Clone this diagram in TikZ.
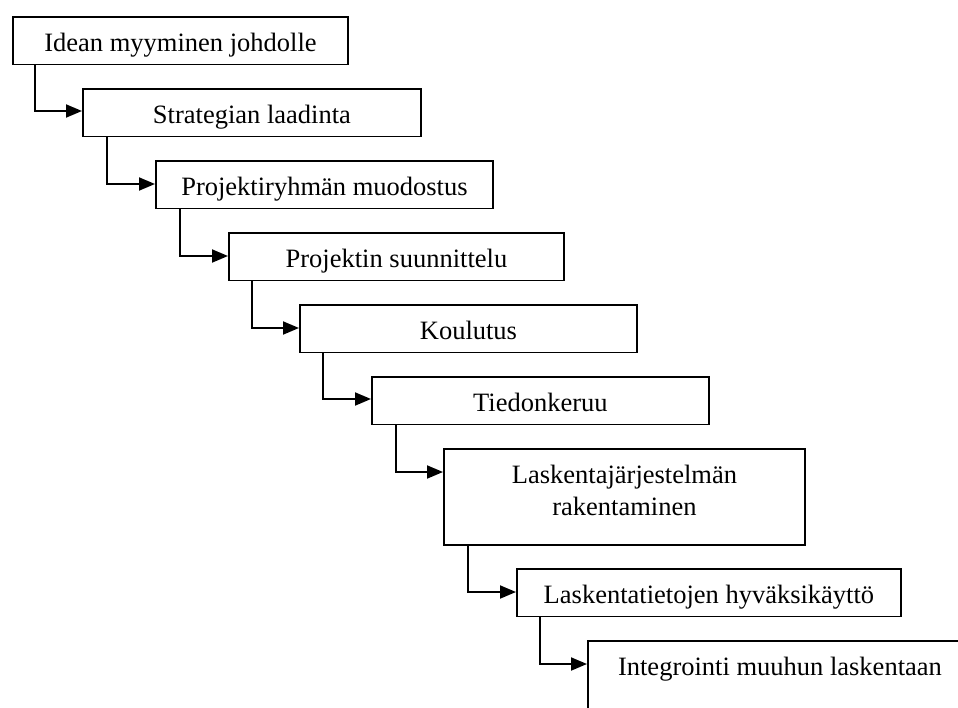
\documentclass[tikz,border=0pt]{standalone}
\usepackage{fontspec}
\setmainfont{Liberation Serif}
\usetikzlibrary{arrows.meta}
\tikzset{
  stage/.style={draw=black, line width=1.9pt, anchor=north west, inner xsep=0pt, inner ysep=0pt,
    font=\fontsize{26.5}{32}\selectfont, text height=35pt, text depth=12.5pt, align=center},
  conn/.style={line width=1.9pt, -{Triangle[length=16pt,width=13pt]}}
}
\begin{document}
\begin{tikzpicture}[x=1pt,y=-1pt]
\useasboundingbox (0,0) rectangle (958,707);
\clip (0,0) rectangle (958,707);
\node[stage, minimum width=335pt] (b1) at (12,16) {Idean myyminen johdolle};
\node[stage, minimum width=338pt] (b2) at (82,88) {Strategian laadinta};
\node[stage, minimum width=337pt] (b3) at (155,160) {Projektiryhmän muodostus};
\node[stage, minimum width=335pt] (b4) at (228,232) {Projektin suunnittelu};
\node[stage, minimum width=337pt] (b5) at (299,304) {Koulutus};
\node[stage, minimum width=337pt] (b6) at (371,376) {Tiedonkeruu};
\node[stage, text width=361pt, text depth=61pt] (b7) at (443,448) {Laskentajärjestelmän\\rakentaminen};
\node[stage, minimum width=384pt] (b8) at (516,568) {Laskentatietojen hyväksikäyttö};
\node[stage, minimum width=384pt, text depth=61pt] (b9) at (587,640) {Integrointi muuhun laskentaan};
\draw[conn] ([xshift=23pt]b1.south west) |- ([yshift=-23pt]b2.north west);
\draw[conn] ([xshift=25pt]b2.south west) |- ([yshift=-24pt]b3.north west);
\draw[conn] ([xshift=25pt]b3.south west) |- ([yshift=-24pt]b4.north west);
\draw[conn] ([xshift=24pt]b4.south west) |- ([yshift=-24pt]b5.north west);
\draw[conn] ([xshift=24pt]b5.south west) |- ([yshift=-23pt]b6.north west);
\draw[conn] ([xshift=25pt]b6.south west) |- ([yshift=-24pt]b7.north west);
\draw[conn] ([xshift=25pt]b7.south west) |- ([yshift=-24pt]b8.north west);
\draw[conn] ([xshift=24pt]b8.south west) |- ([yshift=-24pt]b9.north west);
\end{tikzpicture}
\end{document}
